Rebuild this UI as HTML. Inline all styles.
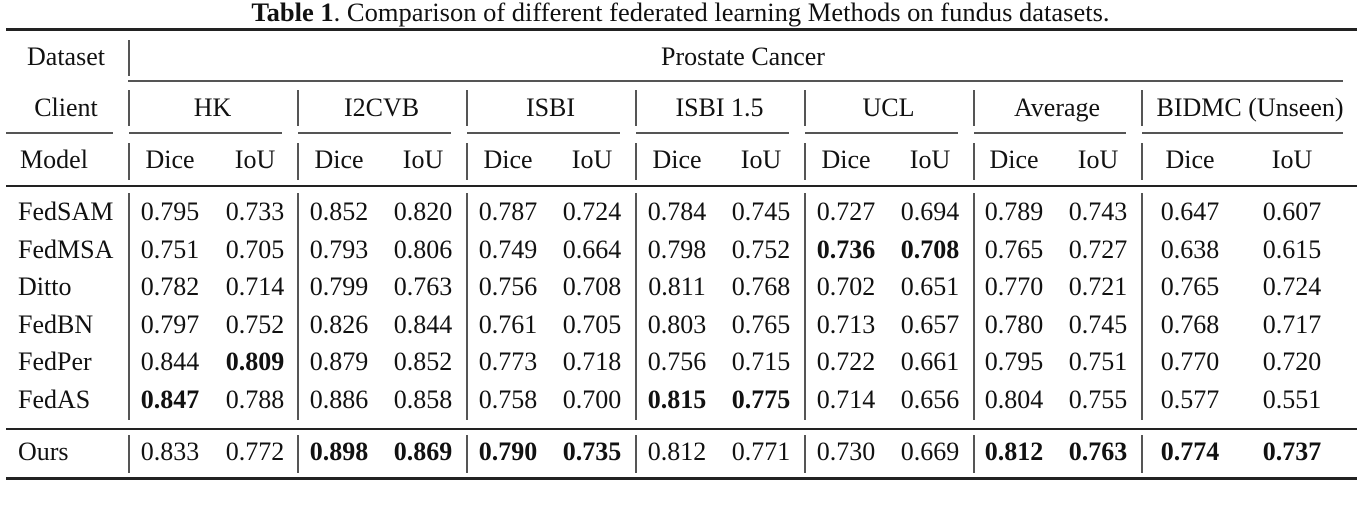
<!DOCTYPE html>
<html><head><meta charset="utf-8">
<style>
body{margin:0;background:#fff;width:1361px;height:506px;overflow:hidden;position:relative;font-family:"Liberation Serif",serif;color:#111}
.t{position:absolute;font-size:26px;white-space:nowrap;transform:translate(-50%,-50%);line-height:1}
.l{position:absolute;background:#222}
.g{position:absolute;background:#555}
b{font-weight:bold}
</style></head><body>
<div id="title" style="position:absolute;left:0;width:1361px;top:-2px;text-align:center;font-size:26.5px;line-height:28px"><b>Table 1</b>. Comparison of different federated learning Methods on fundus datasets.</div>
<div id="root"></div>
<script>
const models=["FedSAM","FedMSA","Ditto","FedBN","FedPer","FedAS","Ours"];
const clients=["HK","I2CVB","ISBI","ISBI 1.5","UCL","Average","BIDMC (Unseen)"];
const values=[
["0.795","0.733","0.852","0.820","0.787","0.724","0.784","0.745","0.727","0.694","0.789","0.743","0.647","0.607"],
["0.751","0.705","0.793","0.806","0.749","0.664","0.798","0.752","0.736","0.708","0.765","0.727","0.638","0.615"],
["0.782","0.714","0.799","0.763","0.756","0.708","0.811","0.768","0.702","0.651","0.770","0.721","0.765","0.724"],
["0.797","0.752","0.826","0.844","0.761","0.705","0.803","0.765","0.713","0.657","0.780","0.745","0.768","0.717"],
["0.844","0.809","0.879","0.852","0.773","0.718","0.756","0.715","0.722","0.661","0.795","0.751","0.770","0.720"],
["0.847","0.788","0.886","0.858","0.758","0.700","0.815","0.775","0.714","0.656","0.804","0.755","0.577","0.551"],
["0.833","0.772","0.898","0.869","0.790","0.735","0.812","0.771","0.730","0.669","0.812","0.763","0.774","0.737"]];
const bold=[[],[8,9],[],[],[1],[0,6,7],[2,3,4,5,10,11,12,13]];
const root=document.getElementById('root');
function txt(s,x,y,name,b){const d=document.createElement('div');d.className='t';d.style.left=x+'px';d.style.top=y+'px';d.textContent=s;if(b)d.style.fontWeight='bold';


root.appendChild(d);}
function line(x,y,w,h,name,cls){const d=document.createElement('div');d.className=cls||'l';d.style.left=x+'px';d.style.top=y+'px';d.style.width=w+'px';d.style.height=h+'px';


root.appendChild(d);}
const seps=[128,297,466,635,804,973,1141];
const colX=[170,255,339,423,508,592,677,761,846,930,1014,1098,1190,1292];
const rowY=[212,250,287,325,362,400,452];
line(6,28,1351,3,'top-rule');
line(128,80,1215,1.5,'dataset-rule','g');
line(6,132,107,1.5,'client-rule-label','g');
for(let i=0;i<7;i++){const x0=seps[i]+1,x1=(i<6?seps[i+1]-15:1343);line(x0,132,x1-x0,1.5,'client-rule-'+i,'g');}
line(6,185,1351,2,'header-rule');
line(6,428,1351,1.5,'ours-rule');
line(6,477,1351,2.5,'bottom-rule');
line(128,40,1.5,36,'sep-dataset','g');
seps.forEach((x,i)=>{line(x,90,1.5,36,'sep-client-'+i,'g');line(x,143,1.5,37,'sep-model-'+i,'g');line(x,193,1.5,227,'sep-data-'+i,'g');line(x,435,1.5,38,'sep-ours-'+i,'g');});
txt('Dataset',66,57,'dataset-label');
txt('Prostate Cancer',743,57,'prostate-cancer-header');
txt('Client',66,108,'client-label');
clients.forEach((c,i)=>{const cx=i<6?(seps[i]+seps[i+1])/2:1250;txt(c,cx,108,'client-'+c.toLowerCase().replace(/[^a-z0-9]+/g,'-'));});
txt('Model',54,160,'model-label');
colX.forEach((x,j)=>txt(j%2?'IoU':'Dice',x,160,(j%2?'iou':'dice')+'-header-'+(j>>1)));
models.forEach((m,i)=>{
  const ml=document.createElement('div');ml.className='t';ml.style.left='18px';ml.style.top=rowY[i]+'px';ml.style.transform='translate(0,-50%)';ml.textContent=m;
  
  
  root.appendChild(ml);
  values[i].forEach((v,j)=>txt(v,colX[j],rowY[i],'cell-'+m.toLowerCase()+'-'+j,bold[i].includes(j)));
});
</script>
</body></html>
